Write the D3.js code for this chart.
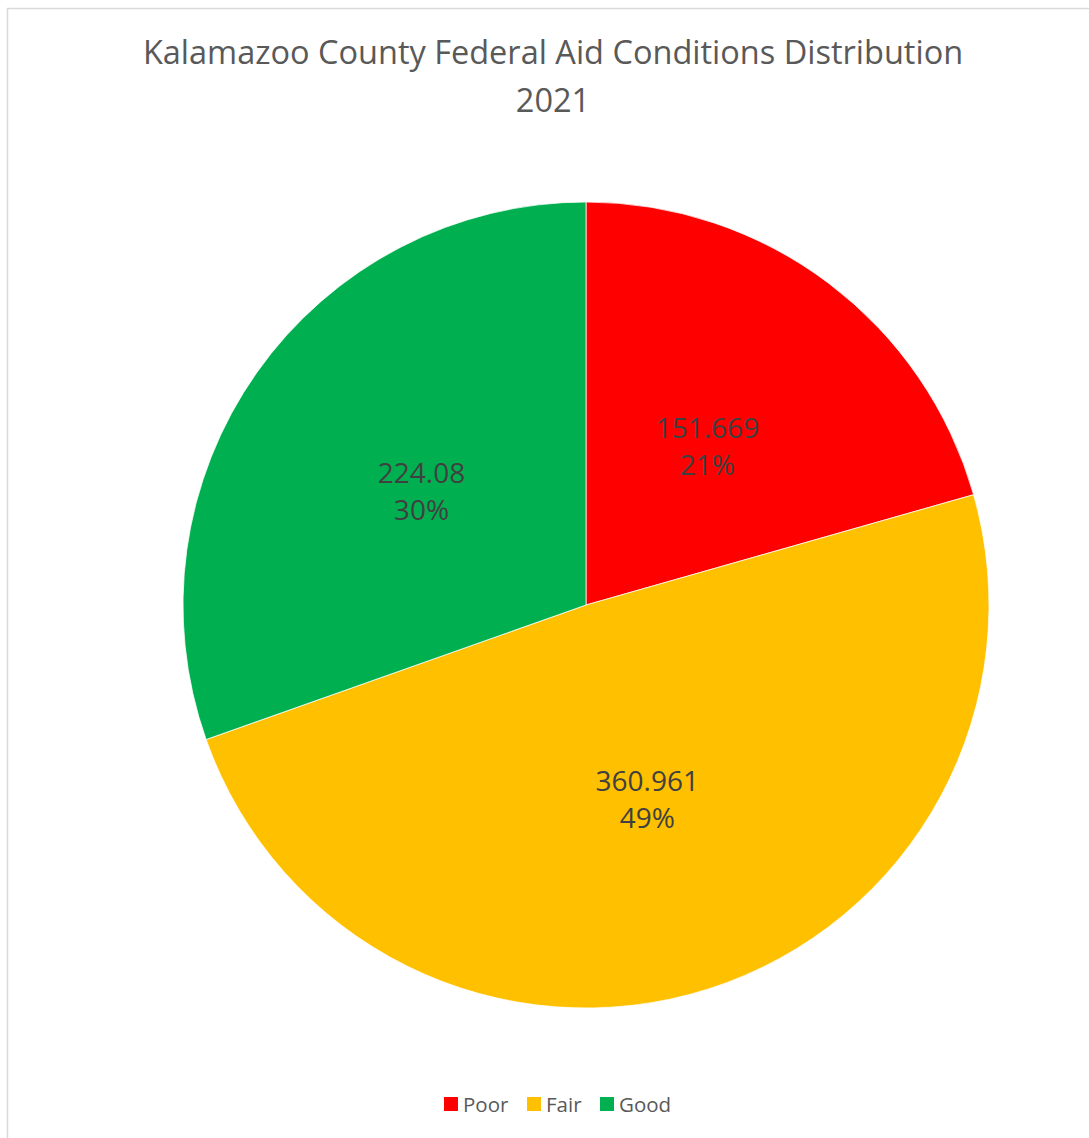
<!DOCTYPE html>
<html>
<head>
<meta charset="utf-8">
<script src="https://cdn.jsdelivr.net/npm/d3@7"></script>
<style>
  html, body { margin: 0; padding: 0; background: #fff; }
  svg { display: block; font-family: "Open Sans", sans-serif; }
</style>
</head>
<body>
<svg id="chart" width="1089" height="1138"></svg>
<script>
// Chart data
const categories = ["Poor", "Fair", "Good"];
const values = [151.669, 360.961, 224.08];
const colors = ["#FF0000", "#FFC000", "#00B050"];
const titleLines = ["Kalamazoo County Federal Aid Conditions Distribution", "2021"];

const svg = d3.select("#chart");

// chart frame (runs off right/bottom edge like the source)
svg.append("rect")
  .attr("x", 7.5).attr("y", 8.5)
  .attr("width", 1100).attr("height", 1140)
  .attr("fill", "#fff")
  .attr("stroke", "#d9d9d9")
  .attr("stroke-width", 1.5);

// Title
const title = svg.append("text")
  .attr("text-anchor", "middle")
  .attr("fill", "#595959")
  .style("font-size", "32.5px");
titleLines.forEach((t, i) => {
  title.append("tspan")
    .attr("x", 553)
    .attr("y", 64 + i * 48)
    .text(t);
});

// Pie
const cx = 586, cy = 605, radius = 403;
const data = categories.map((c, i) => ({ name: c, value: values[i], color: colors[i] }));
const total = d3.sum(values);

const pie = d3.pie().sort(null).value(d => d.value);
const arc = d3.arc().innerRadius(0).outerRadius(radius);
const labelArc = d3.arc().innerRadius(radius / 2).outerRadius(radius / 2);

const g = svg.append("g").attr("transform", `translate(${cx},${cy})`);
const arcs = pie(data);

g.selectAll("path.slice")
  .data(arcs)
  .join("path")
  .attr("class", "slice")
  .attr("d", arc)
  .attr("fill", d => d.data.color)
  .attr("stroke", "#fff")
  .attr("stroke-width", 0.75);

// value + percent labels
const pct = d3.format(".0%");
const labels = g.selectAll("text.lbl")
  .data(arcs)
  .join("text")
  .attr("class", "lbl")
  .attr("text-anchor", "middle")
  .attr("fill", "#404040")
  .style("font-size", "28px")
  .attr("transform", d => `translate(${labelArc.centroid(d)})`);
labels.append("tspan").attr("x", 0).attr("y", -6).text(d => d.data.value);
labels.append("tspan").attr("x", 0).attr("y", 31).text(d => pct(d.data.value / total));

// Legend
const legendX = [444, 527, 600];
const legend = svg.append("g").selectAll("g")
  .data(data)
  .join("g")
  .attr("transform", (d, i) => `translate(${legendX[i]},1097)`);
legend.append("rect")
  .attr("width", 14).attr("height", 14)
  .attr("fill", d => d.color);
legend.append("text")
  .attr("x", 19).attr("y", 14.5)
  .attr("fill", "#595959")
  .style("font-size", "20.5px")
  .text(d => d.name);
</script>
</body>
</html>
